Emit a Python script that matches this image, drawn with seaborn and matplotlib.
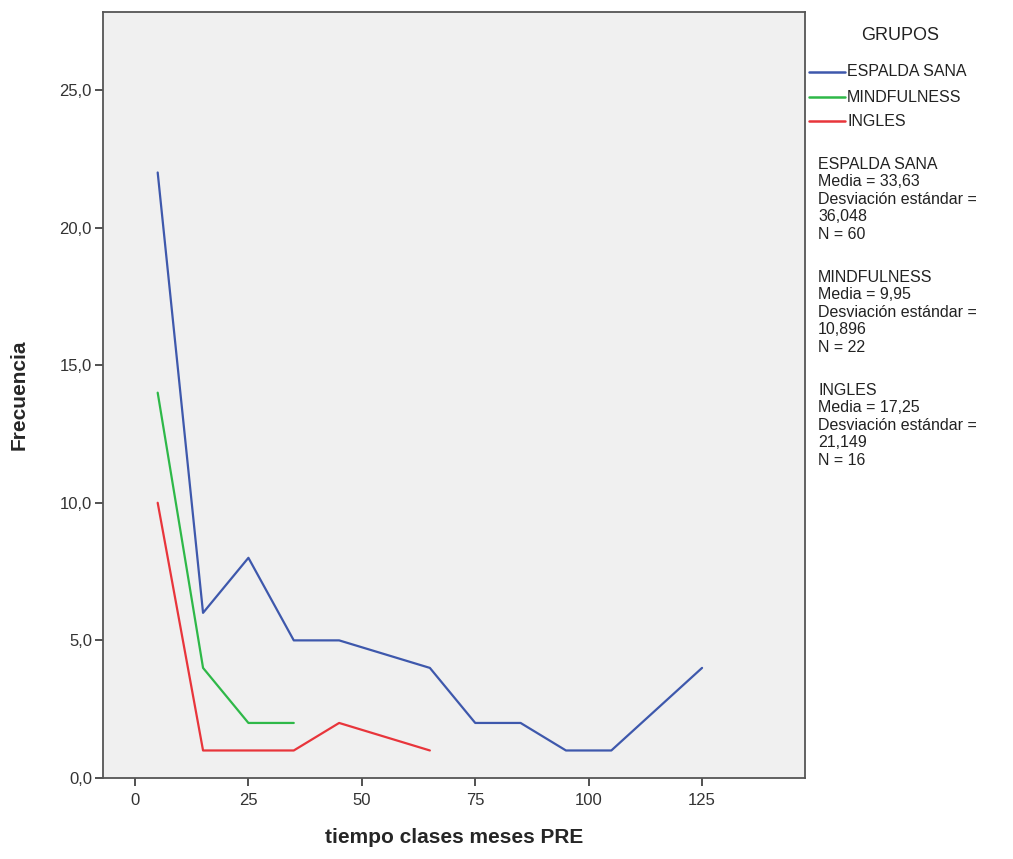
import matplotlib
matplotlib.use("Agg")
import matplotlib.pyplot as plt
import seaborn as sns
import pandas as pd

# Data
espalda_x = [5, 15, 25, 35, 45, 65, 75, 85, 95, 105, 125]
espalda_y = [22, 6, 8, 5, 5, 4, 2, 2, 1, 1, 4]
mind_x = [5, 15, 25, 35]
mind_y = [14, 4, 2, 2]
ingles_x = [5, 15, 25, 35, 45, 65]
ingles_y = [10, 1, 1, 1, 2, 1]
groups = ["ESPALDA SANA", "MINDFULNESS", "INGLES"]
x_ticks = [0, 25, 50, 75, 100, 125]
y_ticks = [0, 5, 10, 15, 20, 25]
stats_text = [
    "ESPALDA SANA\nMedia = 33,63\nDesviación estándar =\n36,048\nN = 60",
    "MINDFULNESS\nMedia = 9,95\nDesviación estándar =\n10,896\nN = 22",
    "INGLES\nMedia = 17,25\nDesviación estándar =\n21,149\nN = 16",
]

df = pd.concat([
    pd.DataFrame({"x": espalda_x, "y": espalda_y, "g": groups[0]}),
    pd.DataFrame({"x": mind_x, "y": mind_y, "g": groups[1]}),
    pd.DataFrame({"x": ingles_x, "y": ingles_y, "g": groups[2]}),
])

sns.set_style("white")
plt.rcParams["font.family"] = ["Liberation Sans", "DejaVu Sans"]

fig = plt.figure(figsize=(10.13, 8.59), dpi=100)
ax = fig.add_axes([0.1017, 0.0943, 0.693, 0.8917])
ax.set_facecolor("#f0f0f0")

palette = {"ESPALDA SANA": "#3e58ac", "MINDFULNESS": "#2eb848", "INGLES": "#e8353b"}
sns.lineplot(data=df, x="x", y="y", hue="g", palette=palette, ax=ax,
             linewidth=1.6, legend=False, estimator=None, sort=False)

ax.set_xlim(-7.05, 147.7)
ax.set_ylim(0, 27.83)
ax.set_xticks(x_ticks)
ax.set_xticklabels([str(t) for t in x_ticks])
ax.set_yticks(y_ticks)
ax.set_yticklabels([f"{t:.1f}".replace(".", ",") for t in y_ticks])
ax.tick_params(axis="both", labelsize=12, colors="#333333", length=6, width=1.2,
               direction="out", bottom=True, left=True)
ax.tick_params(axis="x", pad=5)
ax.tick_params(axis="y", pad=2)
for s in ax.spines.values():
    s.set_color("#555555")
    s.set_linewidth(1.3)

ax.set_xlabel("tiempo clases meses PRE", fontsize=15, fontweight="bold", labelpad=14)
ax.set_ylabel("Frecuencia", fontsize=15, fontweight="bold", labelpad=22)

# Legend on right
fig.text(900 / 1013, 1 - 35 / 859, "GRUPOS", fontsize=13, ha="center", va="center", color="#222222")
leg_y = [72, 97, 121]
for grp, yy in zip(groups, leg_y):
    yf = 1 - yy / 859
    fig.add_artist(plt.Line2D([809 / 1013, 845 / 1013], [yf, yf], color=palette[grp],
                              linewidth=1.8, transform=fig.transFigure))
    fig.text(847 / 1013, yf, grp, fontsize=11.5, va="center", ha="left", color="#222222")

stat_y = [157, 270, 383]
for txt, yy in zip(stats_text, stat_y):
    fig.text(818 / 1013, 1 - yy / 859, txt, fontsize=11.5, va="top", ha="left",
             color="#222222", linespacing=1.2)

fig.savefig("out.png", dpi=100)
